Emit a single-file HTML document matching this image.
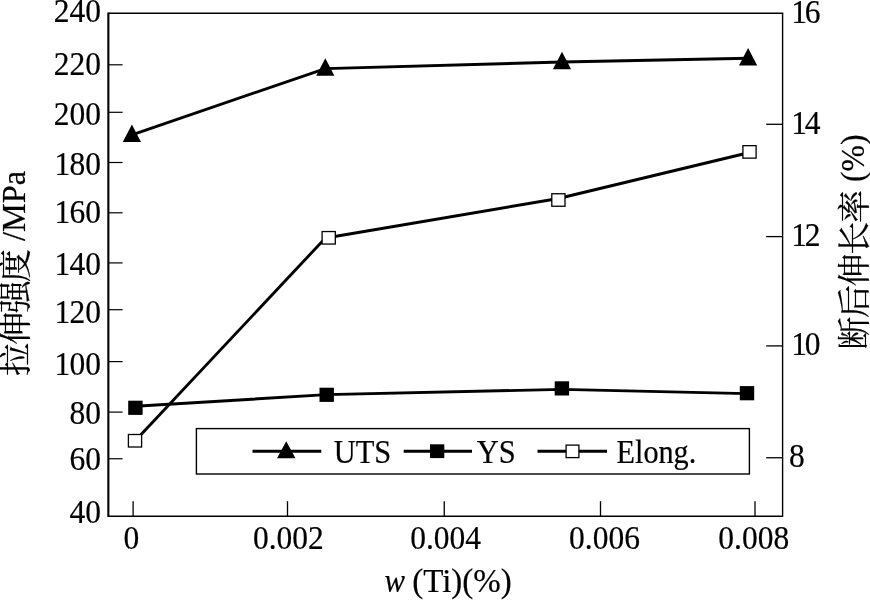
<!DOCTYPE html>
<html><head><meta charset="utf-8"><title>chart</title>
<style>
html,body{margin:0;padding:0;background:#fff;}
body{width:870px;height:600px;overflow:hidden;position:relative;}
svg{position:absolute;left:0;top:0;display:block;filter:grayscale(1);}
text{font-family:"Liberation Serif","Noto Serif CJK SC",serif;font-size:33px;fill:#000;stroke:#000;stroke-width:0.2px;}
.i{font-style:italic;}
</style></head><body>
<svg width="870" height="600" viewBox="0 0 870 600">
<rect x="0" y="0" width="870" height="600" fill="#fff"/>

<g stroke="#000" fill="none" stroke-linecap="butt">
<line x1="108.35" y1="12.549999999999999" x2="108.35" y2="516.9" stroke-width="2.1"/>
<line x1="108.35" y1="13.2" x2="783.25" y2="13.2" stroke-width="1.4"/>
<line x1="782.6" y1="13.2" x2="782.6" y2="516.9" stroke-width="1.4"/>
<line x1="108.35" y1="516.25" x2="782.6" y2="516.25" stroke-width="1.4"/>
<line x1="108.35" y1="64.8" x2="122.6" y2="64.8" stroke-width="1.2"/>
<line x1="108.35" y1="112.3" x2="122.6" y2="112.3" stroke-width="1.2"/>
<line x1="108.35" y1="162.5" x2="122.6" y2="162.5" stroke-width="1.2"/>
<line x1="108.35" y1="212.8" x2="122.6" y2="212.8" stroke-width="1.2"/>
<line x1="108.35" y1="262.9" x2="122.6" y2="262.9" stroke-width="1.2"/>
<line x1="108.35" y1="309.7" x2="122.6" y2="309.7" stroke-width="1.2"/>
<line x1="108.35" y1="361.6" x2="122.6" y2="361.6" stroke-width="1.2"/>
<line x1="108.35" y1="412.1" x2="122.6" y2="412.1" stroke-width="1.2"/>
<line x1="108.35" y1="458.75" x2="122.6" y2="458.75" stroke-width="1.2"/>
<line x1="766.2" y1="124.3" x2="782.6" y2="124.3" stroke-width="1.3"/>
<line x1="766.2" y1="236.6" x2="782.6" y2="236.6" stroke-width="1.3"/>
<line x1="766.2" y1="345.9" x2="782.6" y2="345.9" stroke-width="1.3"/>
<line x1="766.2" y1="457.75" x2="782.6" y2="457.75" stroke-width="1.3"/>
<line x1="133.1" y1="501.2" x2="133.1" y2="516.25" stroke-width="1.3"/>
<line x1="287.5" y1="501.2" x2="287.5" y2="516.25" stroke-width="1.3"/>
<line x1="444.25" y1="501.2" x2="444.25" y2="516.25" stroke-width="1.3"/>
<line x1="600.5" y1="501.2" x2="600.5" y2="516.25" stroke-width="1.3"/>
<line x1="755.0" y1="501.2" x2="755.0" y2="516.25" stroke-width="1.3"/>
</g>
<text transform="translate(100.90 21.95) scale(0.955 1)" text-anchor="end">240</text>
<text transform="translate(100.90 75.35) scale(0.955 1)" text-anchor="end">220</text>
<text transform="translate(100.90 125.15) scale(0.955 1)" text-anchor="end">200</text>
<text transform="translate(100.90 174.55) scale(0.955 1)" text-anchor="end"><tspan letter-spacing="-1">1</tspan>80</text>
<text transform="translate(100.90 222.55) scale(0.955 1)" text-anchor="end"><tspan letter-spacing="-1">1</tspan>60</text>
<text transform="translate(100.90 274.55) scale(0.955 1)" text-anchor="end"><tspan letter-spacing="-1">1</tspan>40</text>
<text transform="translate(100.90 323.45) scale(0.955 1)" text-anchor="end"><tspan letter-spacing="-1">1</tspan>20</text>
<text transform="translate(100.90 374.65) scale(0.955 1)" text-anchor="end"><tspan letter-spacing="-1">1</tspan>00</text>
<text transform="translate(100.90 423.75) scale(0.955 1)" text-anchor="end">80</text>
<text transform="translate(100.90 470.05) scale(0.955 1)" text-anchor="end">60</text>
<text transform="translate(100.90 522.90) scale(0.955 1)" text-anchor="end">40</text>
<text transform="translate(791.20 22.65) scale(0.955 1)" text-anchor="start" letter-spacing="-2.2">16</text>
<text transform="translate(791.20 134.45) scale(0.955 1)" text-anchor="start" letter-spacing="-2.2">14</text>
<text transform="translate(791.20 245.55) scale(0.955 1)" text-anchor="start" letter-spacing="-2.2">12</text>
<text transform="translate(791.20 355.40) scale(0.955 1)" text-anchor="start" letter-spacing="-2.2">10</text>
<text transform="translate(789.00 466.65) scale(0.955 1)" text-anchor="start">8</text>
<text transform="translate(131.40 548.70) scale(0.955 1)" text-anchor="middle">0</text>
<text transform="translate(288.40 548.70) scale(0.955 1)" text-anchor="middle">0.002</text>
<text transform="translate(445.60 548.70) scale(0.955 1)" text-anchor="middle">0.004</text>
<text transform="translate(604.50 548.70) scale(0.955 1)" text-anchor="middle">0.006</text>
<text transform="translate(753.75 548.70) scale(0.955 1)" text-anchor="middle">0.008</text>
<text transform="translate(384.60 592.30) scale(0.93 1)" text-anchor="start"><tspan class="i">w</tspan></text>
<text transform="translate(412.20 592.30) scale(1.0 1)" text-anchor="start">(Ti)(%)</text>
<g stroke="#000" stroke-width="2.9" fill="none" stroke-linejoin="round">
<polyline points="131.9,134.8 325.3,68.6 562.0,62.0 748.1,58.2"/>
<polyline points="135.4,406.3 326.7,394.6 561.9,389.4 747.0,393.6"/>
<polyline points="328.7,237.5 558.4,198.5 749.5,152.5"/>
<polyline points="135.0,441.0 328.7,234.5"/>
</g>
<polygon points="131.9,124.50 122.80,142.00 141.00,142.00" fill="#000"/>
<polygon points="325.3,58.30 316.20,75.80 334.40,75.80" fill="#000"/>
<polygon points="562.0,51.70 552.90,69.20 571.10,69.20" fill="#000"/>
<polygon points="748.1,47.90 739.00,65.40 757.20,65.40" fill="#000"/>
<rect x="128.20" y="400.70" width="14.4" height="14.2" fill="#000"/>
<rect x="319.50" y="387.70" width="14.4" height="14.2" fill="#000"/>
<rect x="554.70" y="381.30" width="14.4" height="14.2" fill="#000"/>
<rect x="739.80" y="386.10" width="14.4" height="14.2" fill="#000"/>
<rect x="128.40" y="434.50" width="13.2" height="12.5" fill="#fff" stroke="#000" stroke-width="1.3"/>
<rect x="322.10" y="231.55" width="13.2" height="12.5" fill="#fff" stroke="#000" stroke-width="1.3"/>
<rect x="551.80" y="193.75" width="13.2" height="12.5" fill="#fff" stroke="#000" stroke-width="1.3"/>
<rect x="742.90" y="145.65" width="13.2" height="12.5" fill="#fff" stroke="#000" stroke-width="1.3"/>
<rect x="196.4" y="428.6" width="553.0" height="45.4" fill="#fff" stroke="#000" stroke-width="1.4"/>
<g stroke="#000" stroke-width="2.9"><line x1="252.5" y1="451.3" x2="321.3" y2="451.3"/><line x1="403.7" y1="451.3" x2="472" y2="451.3"/><line x1="537.5" y1="451.3" x2="607" y2="451.3"/></g>
<polygon points="286.25,441.2 277.0,458.3 295.5,458.3" fill="#000"/>
<rect x="430" y="444.3" width="14.3" height="13.8" fill="#000"/>
<rect x="566.1" y="445.1" width="12.8" height="12.5" fill="#fff" stroke="#000" stroke-width="1.3"/>
<text transform="translate(333.70 463.30) scale(0.925 1)" text-anchor="start">UTS</text>
<text transform="translate(476.70 463.30) scale(0.925 1)" text-anchor="start">YS</text>
<text transform="translate(616.60 463.30) scale(0.915 1)" text-anchor="start">Elong.</text>
<g transform="translate(25.7 376.0) rotate(-90)"><text x="0" y="1.5" font-size="31px" textLength="127" lengthAdjust="spacing">拉伸强度</text></g>
<g transform="translate(24.8 241.0) rotate(-90)"><text transform="scale(0.98 1)">/MPa</text></g>
<g transform="translate(864.3 349.8) rotate(-90)"><text x="0" y="1.5" font-size="31.4px" textLength="159.8" lengthAdjust="spacing">断后伸长率</text></g>
<g transform="translate(863.8 182.0) rotate(-90)"><text transform="scale(0.96 1)">(%)</text></g>
</svg></body></html>
